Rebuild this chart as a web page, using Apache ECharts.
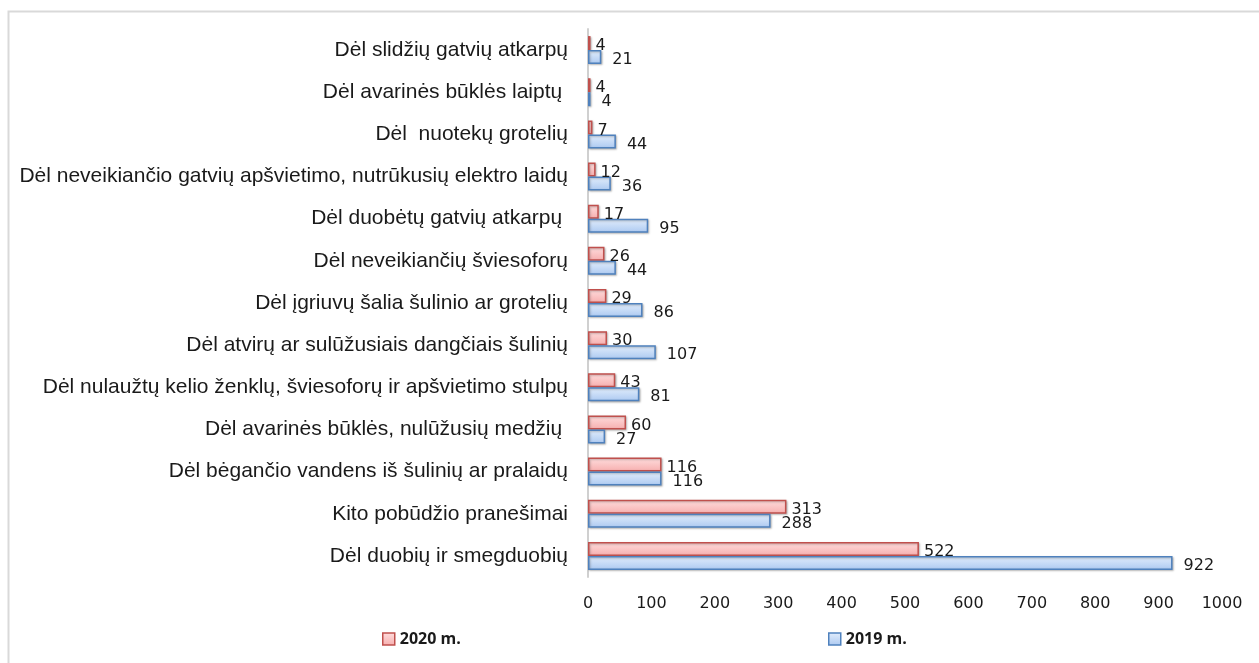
<!DOCTYPE html>
<html>
<head>
<meta charset="utf-8">
<script src="https://cdn.jsdelivr.net/npm/echarts@6/dist/echarts.min.js"></script>
<style>
  html, body { margin: 0; padding: 0; background: #fff; }
  #chart { width: 1259px; height: 663px; }
</style>
</head>
<body>
<div id="chart"></div>
<script>
// categories from bottom to top (ECharts category y axis starts at the bottom)
var categories = [
  'Dėl duobių ir smegduobių',
  'Kito pobūdžio pranešimai',
  'Dėl bėgančio vandens iš šulinių ar pralaidų',
  'Dėl avarinės būklės, nulūžusių medžių ',
  'Dėl nulaužtų kelio ženklų, šviesoforų ir apšvietimo stulpų',
  'Dėl atvirų ar sulūžusiais dangčiais šulinių',
  'Dėl įgriuvų šalia šulinio ar grotelių',
  'Dėl neveikiančių šviesoforų',
  'Dėl duobėtų gatvių atkarpų ',
  'Dėl neveikiančio gatvių apšvietimo, nutrūkusių elektro laidų',
  'Dėl  nuotekų grotelių',
  'Dėl avarinės būklės laiptų ',
  'Dėl slidžių gatvių atkarpų'
];
var values2020 = [522, 313, 116, 60, 43, 30, 29, 26, 17, 12, 7, 4, 4];
var values2019 = [922, 288, 116, 27, 81, 107, 86, 44, 95, 36, 44, 4, 21];
var xTicks = { min: 0, max: 1000, interval: 100 };

var chart = echarts.init(document.getElementById('chart'));

function grad(top, bottom) {
  return new echarts.graphic.LinearGradient(0, 0, 0, 1, [
    { offset: 0, color: top },
    { offset: 1, color: bottom }
  ]);
}

var labelFont = { fontFamily: 'DejaVu Sans', fontSize: 16, color: '#1a1a1a' };
var legendText = { fontFamily: 'Open Sans', fontWeight: 'bold', fontSize: 16, color: '#1a1a1a' };

chart.setOption({
  animation: false,
  graphic: [{
    type: 'rect',
    silent: true,
    shape: { x: 8.5, y: 11.5, width: 1300, height: 700 },
    style: { fill: 'none', stroke: '#d9d9d9', lineWidth: 2 }
  }],
  grid: { left: 588, right: 37, top: 29, bottom: 86 },
  legend: [{
    data: ['2020 m.'],
    left: 377, top: 626, icon: 'rect',
    itemWidth: 12, itemHeight: 12, itemGap: 6, itemStyle: { borderWidth: 1.5 },
    textStyle: legendText
  }, {
    data: ['2019 m.'],
    left: 823, top: 626, icon: 'rect',
    itemWidth: 12, itemHeight: 12, itemGap: 6, itemStyle: { borderWidth: 1.5 },
    textStyle: legendText
  }],
  xAxis: {
    type: 'value',
    min: xTicks.min, max: xTicks.max, interval: xTicks.interval,
    splitLine: { show: false },
    axisLine: { show: false },
    axisTick: { show: false },
    axisLabel: {
      margin: 19, fontFamily: 'DejaVu Sans', fontSize: 16, color: '#1a1a1a',
      formatter: function (v) { return String(v); }
    }
  },
  yAxis: {
    type: 'category',
    data: categories,
    axisLine: { show: true, lineStyle: { color: '#d0d0d0', width: 2 } },
    axisTick: { show: false },
    axisLabel: { margin: 20, fontFamily: 'Liberation Sans', fontSize: 21, color: '#1a1a1a' }
  },
  series: [{
    name: '2020 m.',
    type: 'bar',
    data: values2020,
    barWidth: 14,
    barGap: '0%',
    itemStyle: {
      color: grad('#ffdede', '#f6aeae'),
      borderColor: '#c0504d',
      borderWidth: 1.5,
      shadowColor: 'rgba(0,0,0,0.25)', shadowBlur: 2, shadowOffsetX: 1, shadowOffsetY: 1
    },
    label: Object.assign({ show: true, position: 'right', distance: 5, offset: [0, 3] }, labelFont)
  }, {
    name: '2019 m.',
    type: 'bar',
    data: values2019,
    barWidth: 14,
    barGap: '0%',
    itemStyle: {
      color: grad('#e3eefc', '#acc9f1'),
      borderColor: '#4f81bd',
      borderWidth: 1.5,
      shadowColor: 'rgba(0,0,0,0.25)', shadowBlur: 2, shadowOffsetX: 1, shadowOffsetY: 1
    },
    label: Object.assign({ show: true, position: 'right', distance: 11, offset: [0, 3] }, labelFont)
  }]
});
</script>
</body>
</html>
